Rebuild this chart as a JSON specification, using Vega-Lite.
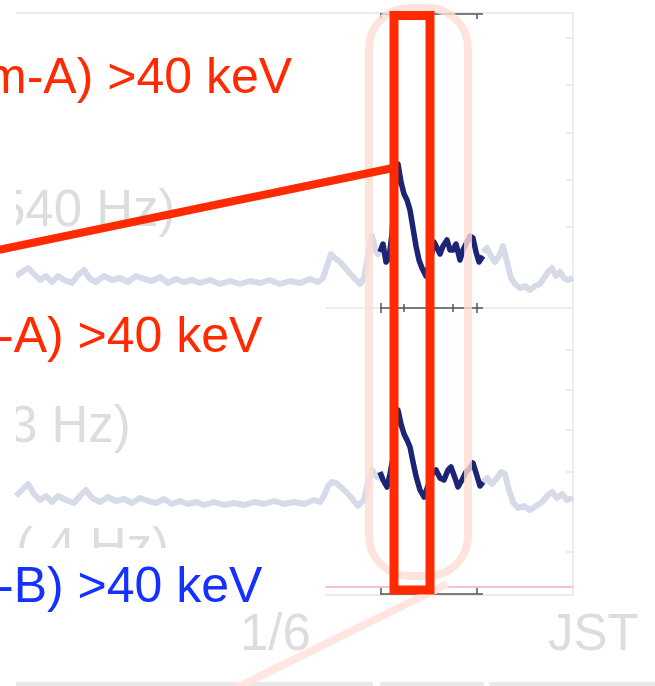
{
  "$schema": "https://vega.github.io/schema/vega-lite/v6.json",
  "width": 655,
  "height": 686,
  "autosize": "none",
  "padding": 0,
  "background": "white",
  "config": {"view": {"stroke": null}},
  "datasets": {
    "light": [
      {"s":"t1","x":16,"y":276},{"s":"t1","x":22,"y":272},{"s":"t1","x":28,"y":268},{"s":"t1","x":34,"y":274},{"s":"t1","x":40,"y":280},{"s":"t1","x":46,"y":276},{"s":"t1","x":52,"y":282},{"s":"t1","x":58,"y":276},{"s":"t1","x":64,"y":280},{"s":"t1","x":72,"y":283},{"s":"t1","x":78,"y":275},{"s":"t1","x":84,"y":270},{"s":"t1","x":90,"y":279},{"s":"t1","x":96,"y":282},{"s":"t1","x":104,"y":276},{"s":"t1","x":112,"y":280},{"s":"t1","x":120,"y":278},{"s":"t1","x":128,"y":282},{"s":"t1","x":136,"y":276},{"s":"t1","x":144,"y":279},{"s":"t1","x":152,"y":281},{"s":"t1","x":160,"y":277},{"s":"t1","x":168,"y":283},{"s":"t1","x":176,"y":279},{"s":"t1","x":184,"y":282},{"s":"t1","x":192,"y":280},{"s":"t1","x":200,"y":283},{"s":"t1","x":210,"y":280},{"s":"t1","x":220,"y":284},{"s":"t1","x":230,"y":281},{"s":"t1","x":240,"y":284},{"s":"t1","x":250,"y":281},{"s":"t1","x":260,"y":283},{"s":"t1","x":270,"y":280},{"s":"t1","x":280,"y":284},{"s":"t1","x":290,"y":281},{"s":"t1","x":300,"y":283},{"s":"t1","x":310,"y":279},{"s":"t1","x":318,"y":282},{"s":"t1","x":323,"y":278},{"s":"t1","x":327,"y":266},{"s":"t1","x":331,"y":254},{"s":"t1","x":335,"y":258},{"s":"t1","x":340,"y":262},{"s":"t1","x":347,"y":270},{"s":"t1","x":354,"y":278},{"s":"t1","x":360,"y":284},{"s":"t1","x":364,"y":278},{"s":"t1","x":368,"y":256},{"s":"t1","x":372,"y":236},{"s":"t1","x":376,"y":252},{"s":"t1","x":380,"y":256},
      {"s":"t2","x":483,"y":252},{"s":"t2","x":487,"y":248},{"s":"t2","x":491,"y":256},{"s":"t2","x":495,"y":262},{"s":"t2","x":499,"y":256},{"s":"t2","x":503,"y":246},{"s":"t2","x":507,"y":262},{"s":"t2","x":511,"y":278},{"s":"t2","x":515,"y":284},{"s":"t2","x":520,"y":288},{"s":"t2","x":525,"y":286},{"s":"t2","x":530,"y":290},{"s":"t2","x":535,"y":286},{"s":"t2","x":540,"y":284},{"s":"t2","x":544,"y":278},{"s":"t2","x":548,"y":272},{"s":"t2","x":552,"y":268},{"s":"t2","x":556,"y":276},{"s":"t2","x":560,"y":272},{"s":"t2","x":564,"y":278},{"s":"t2","x":568,"y":280},{"s":"t2","x":573,"y":278},
      {"s":"b1","x":16,"y":496},{"s":"b1","x":22,"y":490},{"s":"b1","x":28,"y":484},{"s":"b1","x":34,"y":494},{"s":"b1","x":40,"y":500},{"s":"b1","x":46,"y":496},{"s":"b1","x":52,"y":502},{"s":"b1","x":58,"y":496},{"s":"b1","x":66,"y":500},{"s":"b1","x":74,"y":503},{"s":"b1","x":80,"y":496},{"s":"b1","x":86,"y":490},{"s":"b1","x":92,"y":498},{"s":"b1","x":100,"y":502},{"s":"b1","x":108,"y":497},{"s":"b1","x":116,"y":501},{"s":"b1","x":124,"y":499},{"s":"b1","x":132,"y":503},{"s":"b1","x":140,"y":498},{"s":"b1","x":148,"y":501},{"s":"b1","x":156,"y":503},{"s":"b1","x":164,"y":499},{"s":"b1","x":172,"y":504},{"s":"b1","x":180,"y":501},{"s":"b1","x":188,"y":504},{"s":"b1","x":196,"y":502},{"s":"b1","x":204,"y":505},{"s":"b1","x":214,"y":502},{"s":"b1","x":224,"y":505},{"s":"b1","x":234,"y":503},{"s":"b1","x":244,"y":505},{"s":"b1","x":254,"y":502},{"s":"b1","x":264,"y":504},{"s":"b1","x":274,"y":501},{"s":"b1","x":284,"y":504},{"s":"b1","x":294,"y":502},{"s":"b1","x":304,"y":504},{"s":"b1","x":314,"y":500},{"s":"b1","x":320,"y":502},{"s":"b1","x":324,"y":496},{"s":"b1","x":328,"y":486},{"s":"b1","x":332,"y":482},{"s":"b1","x":336,"y":483},{"s":"b1","x":342,"y":488},{"s":"b1","x":350,"y":496},{"s":"b1","x":358,"y":506},{"s":"b1","x":364,"y":500},{"s":"b1","x":368,"y":482},{"s":"b1","x":372,"y":470},{"s":"b1","x":376,"y":476},{"s":"b1","x":380,"y":478},
      {"s":"b2","x":483,"y":482},{"s":"b2","x":487,"y":478},{"s":"b2","x":492,"y":484},{"s":"b2","x":497,"y":478},{"s":"b2","x":501,"y":472},{"s":"b2","x":505,"y":474},{"s":"b2","x":509,"y":490},{"s":"b2","x":513,"y":502},{"s":"b2","x":518,"y":508},{"s":"b2","x":524,"y":506},{"s":"b2","x":530,"y":510},{"s":"b2","x":536,"y":506},{"s":"b2","x":542,"y":502},{"s":"b2","x":547,"y":496},{"s":"b2","x":552,"y":492},{"s":"b2","x":557,"y":498},{"s":"b2","x":562,"y":494},{"s":"b2","x":567,"y":500},{"s":"b2","x":573,"y":498}
    ],
    "dark": [
      {"s":"t","x":380,"y":252},{"s":"t","x":383,"y":244},{"s":"t","x":386,"y":262},{"s":"t","x":389,"y":258},{"s":"t","x":392,"y":234},{"s":"t","x":395,"y":190},{"s":"t","x":398,"y":164},{"s":"t","x":401,"y":182},{"s":"t","x":404,"y":194},{"s":"t","x":407,"y":200},{"s":"t","x":410,"y":210},{"s":"t","x":413,"y":228},{"s":"t","x":416,"y":246},{"s":"t","x":419,"y":260},{"s":"t","x":422,"y":268},{"s":"t","x":426,"y":276},{"s":"t","x":430,"y":262},{"s":"t","x":434,"y":242},{"s":"t","x":437,"y":248},{"s":"t","x":440,"y":254},{"s":"t","x":443,"y":246},{"s":"t","x":447,"y":240},{"s":"t","x":450,"y":250},{"s":"t","x":453,"y":250},{"s":"t","x":456,"y":244},{"s":"t","x":460,"y":260},{"s":"t","x":463,"y":250},{"s":"t","x":467,"y":242},{"s":"t","x":470,"y":236},{"s":"t","x":473,"y":238},{"s":"t","x":476,"y":252},{"s":"t","x":479,"y":262},{"s":"t","x":483,"y":256},
      {"s":"b","x":380,"y":472},{"s":"b","x":383,"y":480},{"s":"b","x":387,"y":487},{"s":"b","x":390,"y":474},{"s":"b","x":393,"y":458},{"s":"b","x":396,"y":420},{"s":"b","x":398,"y":410},{"s":"b","x":401,"y":424},{"s":"b","x":404,"y":434},{"s":"b","x":407,"y":440},{"s":"b","x":410,"y":447},{"s":"b","x":413,"y":462},{"s":"b","x":416,"y":476},{"s":"b","x":420,"y":490},{"s":"b","x":424,"y":497},{"s":"b","x":428,"y":486},{"s":"b","x":432,"y":474},{"s":"b","x":436,"y":470},{"s":"b","x":440,"y":478},{"s":"b","x":444,"y":480},{"s":"b","x":448,"y":470},{"s":"b","x":451,"y":467},{"s":"b","x":455,"y":478},{"s":"b","x":458,"y":487},{"s":"b","x":462,"y":480},{"s":"b","x":466,"y":472},{"s":"b","x":470,"y":468},{"s":"b","x":473,"y":463},{"s":"b","x":477,"y":476},{"s":"b","x":480,"y":486},{"s":"b","x":483,"y":482}
    ]
  },
  "layer": [
    {
      "data": {"values": [
        {"x":16,"x2":573,"y":13,"y2":13},
        {"x":573,"x2":573,"y":13,"y2":595},
        {"x":325,"x2":573,"y":308,"y2":308},
        {"x":325,"x2":573,"y":595,"y2":595},
        {"x":566,"x2":573,"y":38,"y2":38},{"x":566,"x2":573,"y":85,"y2":85},{"x":566,"x2":573,"y":133,"y2":133},{"x":566,"x2":573,"y":180,"y2":180},{"x":566,"x2":573,"y":227,"y2":227},
        {"x":566,"x2":573,"y":350,"y2":350},{"x":566,"x2":573,"y":390,"y2":390},{"x":566,"x2":573,"y":430,"y2":430},{"x":566,"x2":573,"y":472,"y2":472},{"x":566,"x2":573,"y":552,"y2":552}
      ]},
      "mark": {"type": "rule", "color": "#e6e6e6", "strokeWidth": 1.5},
      "encoding": {
        "x": {"field":"x","type":"quantitative","scale":{"domain":[0,655],"nice":false,"zero":false},"axis":null},
        "x2": {"field":"x2"},
        "y": {"field":"y","type":"quantitative","scale":{"domain":[0,686],"reverse":true,"nice":false,"zero":false},"axis":null},
        "y2": {"field":"y2"}
      }
    },
    {
      "data": {"values": [
        {"x":16,"x2":373,"y":684,"y2":684},
        {"x":380,"x2":484,"y":684,"y2":684},
        {"x":489,"x2":655,"y":684,"y2":684}
      ]},
      "mark": {"type": "rule", "color": "#e8e8e8", "strokeWidth": 4},
      "encoding": {
        "x": {"field":"x","type":"quantitative","scale":{"domain":[0,655],"nice":false,"zero":false},"axis":null},
        "x2": {"field":"x2"},
        "y": {"field":"y","type":"quantitative","scale":{"domain":[0,686],"reverse":true,"nice":false,"zero":false},"axis":null},
        "y2": {"field":"y2"}
      }
    },
    {
      "data": {"values": [{"x":325,"x2":573,"y":587,"y2":587}]},
      "mark": {"type": "rule", "color": "#f6c4c8", "strokeWidth": 2},
      "encoding": {
        "x": {"field":"x","type":"quantitative","scale":{"domain":[0,655],"nice":false,"zero":false},"axis":null},
        "x2": {"field":"x2"},
        "y": {"field":"y","type":"quantitative","scale":{"domain":[0,686],"reverse":true,"nice":false,"zero":false},"axis":null},
        "y2": {"field":"y2"}
      }
    },
    {
      "data": {"name": "light"},
      "mark": {"type": "line", "color": "#d3d7e7", "strokeWidth": 6, "opacity": 0.9, "strokeJoin": "round"},
      "encoding": {
        "x": {"field":"x","type":"quantitative","scale":{"domain":[0,655],"nice":false,"zero":false},"axis":null},
        "y": {"field":"y","type":"quantitative","scale":{"domain":[0,686],"reverse":true,"nice":false,"zero":false},"axis":null},
        "detail": {"field":"s"}
      }
    },
    {
      "data": {"name": "dark"},
      "mark": {"type": "line", "color": "#1c2474", "strokeWidth": 5.5, "strokeJoin": "round"},
      "encoding": {
        "x": {"field":"x","type":"quantitative","scale":{"domain":[0,655],"nice":false,"zero":false},"axis":null},
        "y": {"field":"y","type":"quantitative","scale":{"domain":[0,686],"reverse":true,"nice":false,"zero":false},"axis":null},
        "detail": {"field":"s"}
      }
    },
    {
      "data": {"values": [
        {"x":380,"x2":483,"y":14,"y2":14},
        {"x":380,"x2":483,"y":308,"y2":308},
        {"x":380,"x2":483,"y":594,"y2":594},
        {"x":381,"x2":381,"y":14,"y2":19},{"x":477,"x2":477,"y":14,"y2":19},
        {"x":381,"x2":381,"y":303,"y2":313},{"x":404,"x2":404,"y":304,"y2":312},{"x":453,"x2":453,"y":304,"y2":312},{"x":477,"x2":477,"y":303,"y2":313},
        {"x":381,"x2":381,"y":588,"y2":594},{"x":477,"x2":477,"y":588,"y2":594}
      ]},
      "mark": {"type": "rule", "color": "#555555", "strokeWidth": 1.5},
      "encoding": {
        "x": {"field":"x","type":"quantitative","scale":{"domain":[0,655],"nice":false,"zero":false},"axis":null},
        "x2": {"field":"x2"},
        "y": {"field":"y","type":"quantitative","scale":{"domain":[0,686],"reverse":true,"nice":false,"zero":false},"axis":null},
        "y2": {"field":"y2"}
      }
    },
    {
      "data": {"values": [
        {"x":-3,"y":226,"t":"540 Hz)"},
        {"x":9,"y":442,"t":"3 Hz)"},
        {"x":16,"y":564,"t":"(   4 Hz)"},
        {"x":240,"y":650,"t":"1/6"},
        {"x":548,"y":650,"t":"JST"}
      ]},
      "mark": {"type": "text", "font": "Liberation Sans", "fontSize": 51, "color": "#dddddd", "align": "left", "baseline": "alphabetic"},
      "encoding": {
        "x": {"field":"x","type":"quantitative","scale":{"domain":[0,655],"nice":false,"zero":false},"axis":null},
        "y": {"field":"y","type":"quantitative","scale":{"domain":[0,686],"reverse":true,"nice":false,"zero":false},"axis":null},
        "text": {"field":"t"}
      }
    },
    {
      "data": {"values": [
        {"x":-10,"x2":16,"y":150,"y2":470},
        {"x":0,"x2":330,"y":548,"y2":585}
      ]},
      "mark": {"type": "rect", "color": "white"},
      "encoding": {
        "x": {"field":"x","type":"quantitative","scale":{"domain":[0,655],"nice":false,"zero":false},"axis":null},
        "x2": {"field":"x2"},
        "y": {"field":"y","type":"quantitative","scale":{"domain":[0,686],"reverse":true,"nice":false,"zero":false},"axis":null},
        "y2": {"field":"y2"}
      }
    },
    {
      "data": {"values": [{"x":369,"x2":468,"y":8,"y2":576}]},
      "mark": {"type": "rect", "fill": null, "fillOpacity": 0, "stroke": "#ffdcd4", "strokeWidth": 8, "cornerRadius": 40, "opacity": 0.8},
      "encoding": {
        "x": {"field":"x","type":"quantitative","scale":{"domain":[0,655],"nice":false,"zero":false},"axis":null},
        "x2": {"field":"x2"},
        "y": {"field":"y","type":"quantitative","scale":{"domain":[0,686],"reverse":true,"nice":false,"zero":false},"axis":null},
        "y2": {"field":"y2"}
      }
    },
    {
      "data": {"values": [{"x":447,"x2":236,"y":584,"y2":688}]},
      "mark": {"type": "rule", "color": "#ffe6e0", "strokeWidth": 8},
      "encoding": {
        "x": {"field":"x","type":"quantitative","scale":{"domain":[0,655],"nice":false,"zero":false},"axis":null},
        "x2": {"field":"x2"},
        "y": {"field":"y","type":"quantitative","scale":{"domain":[0,686],"reverse":true,"nice":false,"zero":false},"axis":null},
        "y2": {"field":"y2"}
      }
    },
    {
      "data": {"values": [{"x":394,"x2":430,"y":15.5,"y2":590}]},
      "mark": {"type": "rect", "fill": null, "fillOpacity": 0, "stroke": "#ff2a00", "strokeWidth": 9},
      "encoding": {
        "x": {"field":"x","type":"quantitative","scale":{"domain":[0,655],"nice":false,"zero":false},"axis":null},
        "x2": {"field":"x2"},
        "y": {"field":"y","type":"quantitative","scale":{"domain":[0,686],"reverse":true,"nice":false,"zero":false},"axis":null},
        "y2": {"field":"y2"}
      }
    },
    {
      "data": {"values": [{"x":-2,"x2":393,"y":250,"y2":168}]},
      "mark": {"type": "rule", "color": "#ff2a00", "strokeWidth": 8},
      "encoding": {
        "x": {"field":"x","type":"quantitative","scale":{"domain":[0,655],"nice":false,"zero":false},"axis":null},
        "x2": {"field":"x2"},
        "y": {"field":"y","type":"quantitative","scale":{"domain":[0,686],"reverse":true,"nice":false,"zero":false},"axis":null},
        "y2": {"field":"y2"}
      }
    },
    {
      "data": {"values": [
        {"x":-15,"y":93,"t":"m-A) >40 keV"},
        {"x":-3,"y":352,"t":"-A) >40 keV"}
      ]},
      "mark": {"type": "text", "font": "Liberation Sans", "fontSize": 50, "color": "#ff2a00", "align": "left", "baseline": "alphabetic"},
      "encoding": {
        "x": {"field":"x","type":"quantitative","scale":{"domain":[0,655],"nice":false,"zero":false},"axis":null},
        "y": {"field":"y","type":"quantitative","scale":{"domain":[0,686],"reverse":true,"nice":false,"zero":false},"axis":null},
        "text": {"field":"t"}
      }
    },
    {
      "data": {"values": [
        {"x":-3,"y":602,"t":"-B) >40 keV"}
      ]},
      "mark": {"type": "text", "font": "Liberation Sans", "fontSize": 50, "color": "#1531ff", "align": "left", "baseline": "alphabetic"},
      "encoding": {
        "x": {"field":"x","type":"quantitative","scale":{"domain":[0,655],"nice":false,"zero":false},"axis":null},
        "y": {"field":"y","type":"quantitative","scale":{"domain":[0,686],"reverse":true,"nice":false,"zero":false},"axis":null},
        "text": {"field":"t"}
      }
    }
  ]
}
